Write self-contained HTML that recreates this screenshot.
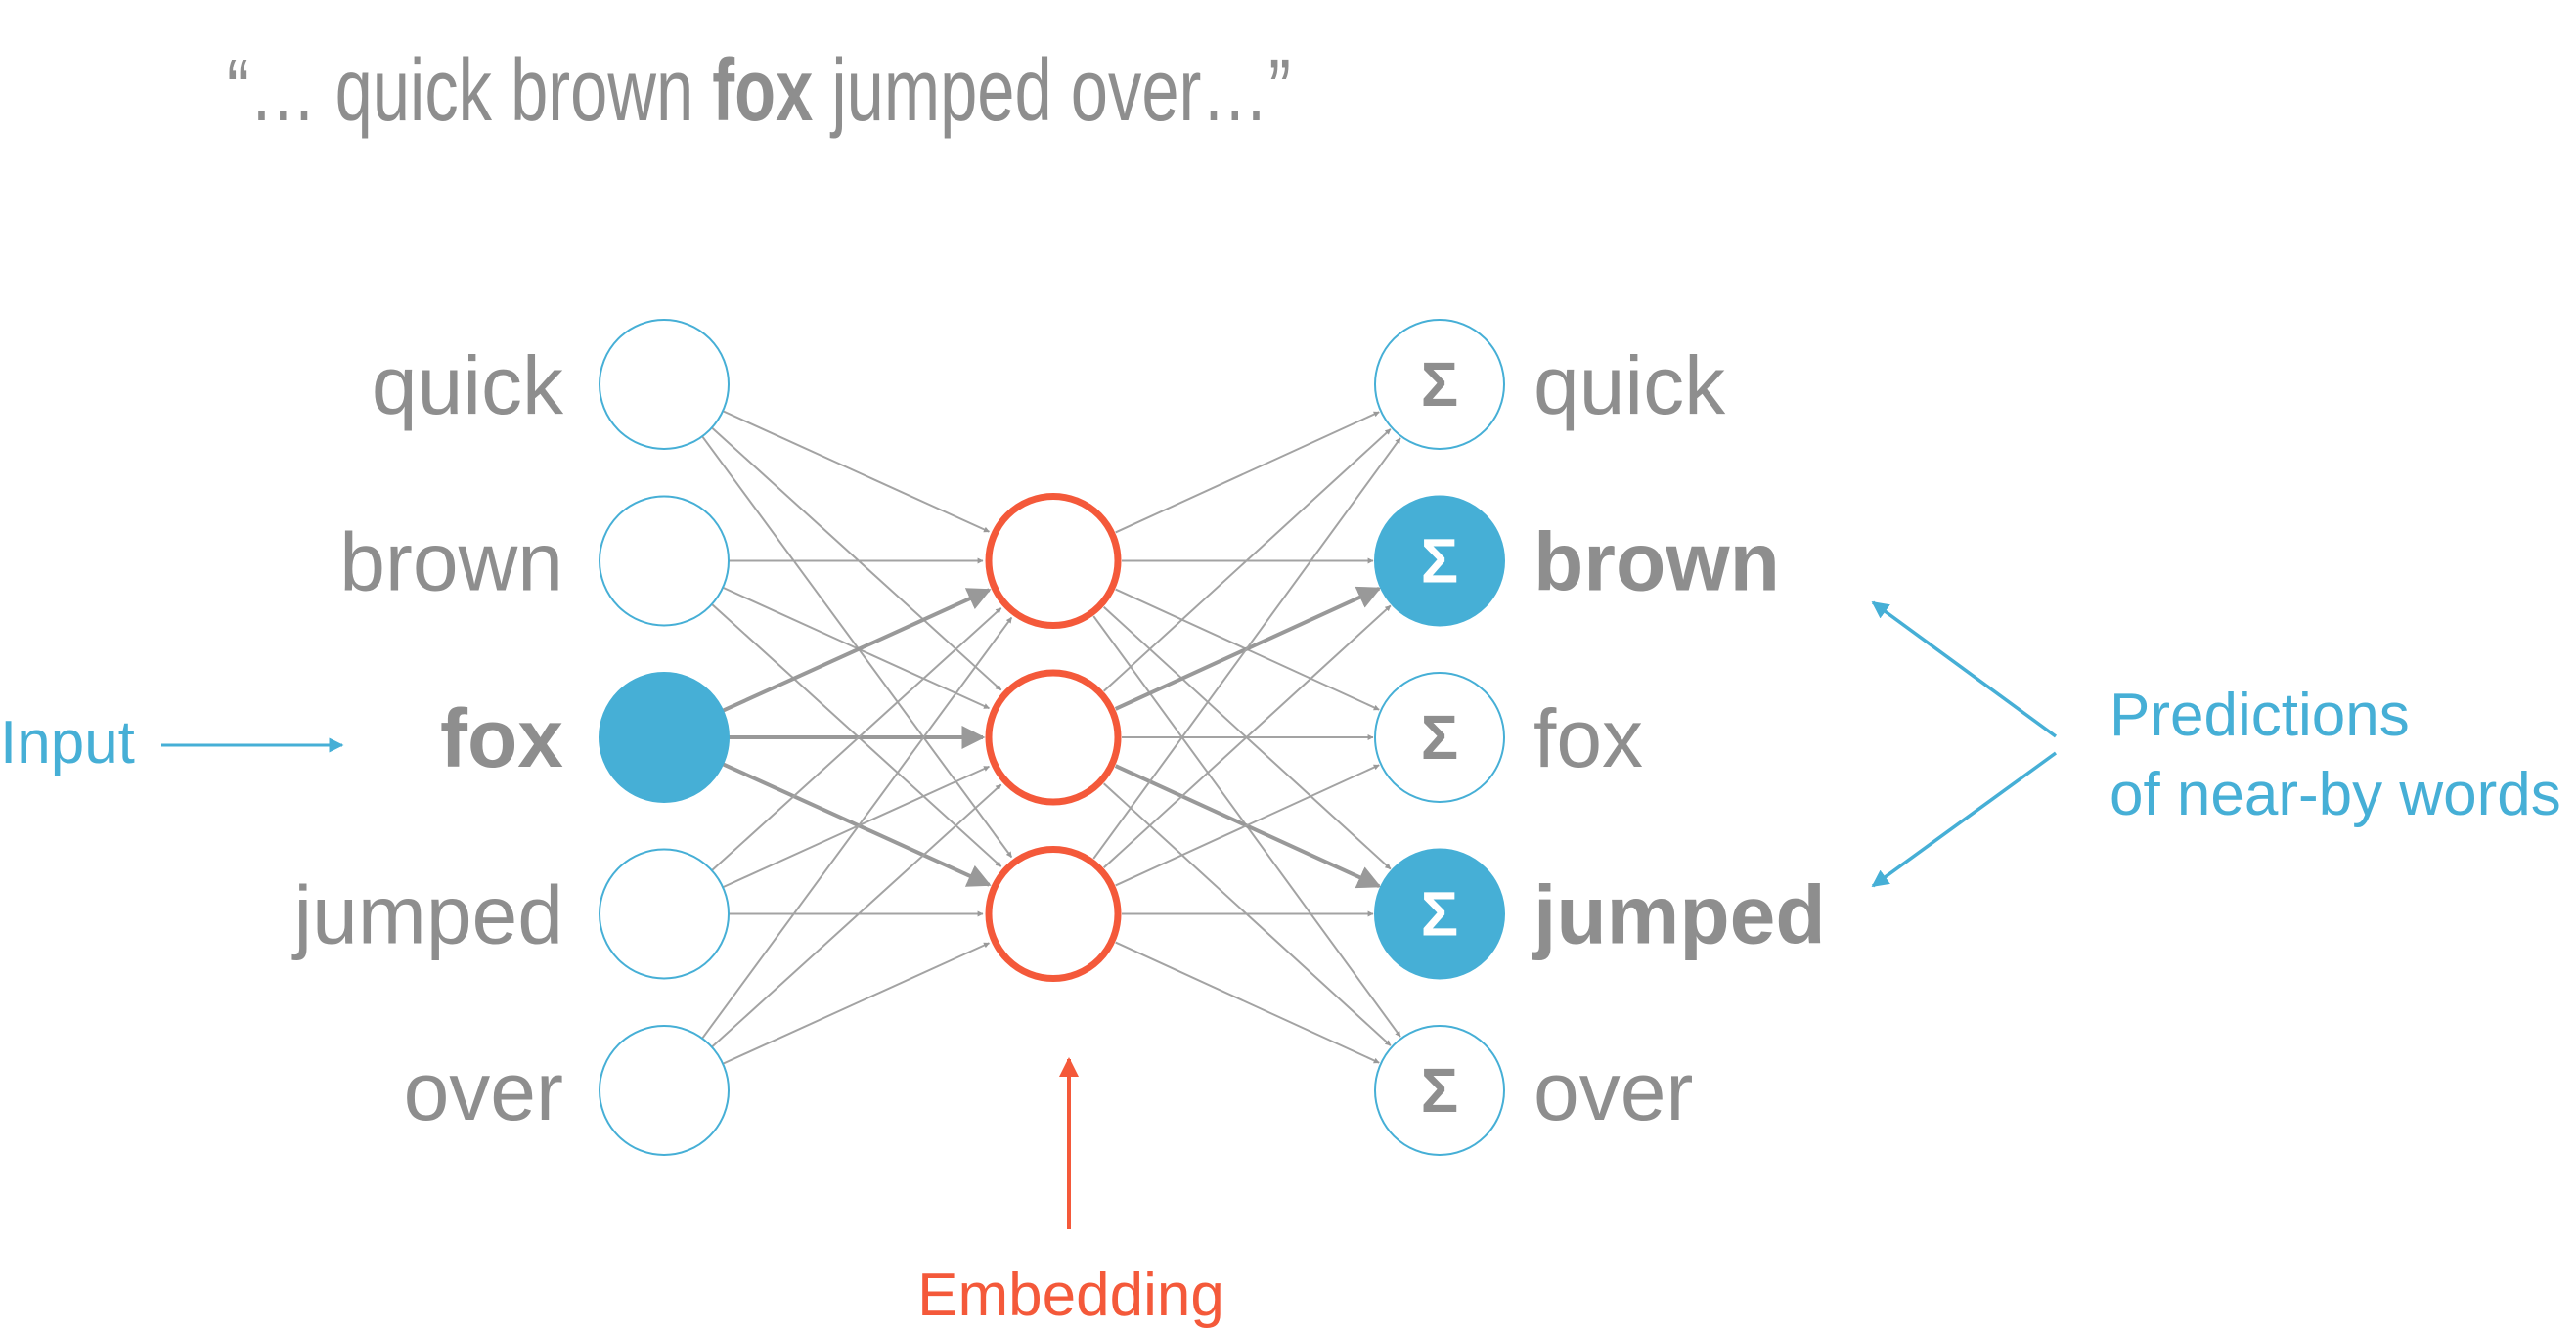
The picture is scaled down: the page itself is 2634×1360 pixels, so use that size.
<!DOCTYPE html>
<html><head><meta charset="utf-8"><style>
html,body{margin:0;padding:0;background:#fff;}
svg{display:block;font-family:"Liberation Sans",Arial,sans-serif;}
</style></head><body>
<svg id="c" width="2634" height="1360" viewBox="0 0 2634 1360">
<defs>
<marker id="ag" viewBox="0 0 10 10" refX="9" refY="5" markerWidth="6" markerHeight="6" orient="auto" markerUnits="userSpaceOnUse"><path d="M0,0 L10,5 L0,10z" fill="#999"/></marker>
<marker id="agb" viewBox="0 0 10 10" refX="9" refY="5" markerWidth="6" markerHeight="6" orient="auto"><path d="M0,0 L10,5 L0,10z" fill="#999"/></marker>
<marker id="ab" viewBox="0 0 10 10" refX="9" refY="5" markerWidth="5" markerHeight="5" orient="auto"><path d="M0,0 L10,5 L0,10z" fill="#46afd6"/></marker>
<marker id="ao" viewBox="0 0 10 10" refX="9" refY="5" markerWidth="5" markerHeight="5" orient="auto"><path d="M0,0 L10,5 L0,10z" fill="#f4593a"/></marker>
</defs>
<text x="232" y="123" font-size="90" fill="#8e8e8e" textLength="1088" lengthAdjust="spacingAndGlyphs">“… quick brown <tspan font-weight="bold">fox</tspan> jumped over…”</text>
<g id="edges"></g>
<g id="nodes"></g>
<text x="0" y="780" font-size="62" fill="#46afd6">Input</text>
<line x1="165" y1="762" x2="350" y2="762" stroke="#46afd6" stroke-width="3" marker-end="url(#ab)"/>
<line x1="1093" y1="1257" x2="1093" y2="1083" stroke="#f4593a" stroke-width="4" marker-end="url(#ao)"/>
<text x="1095" y="1345" font-size="62" fill="#f4593a" text-anchor="middle">Embedding</text>
<line x1="2102" y1="753" x2="1915" y2="616" stroke="#46afd6" stroke-width="3.5" marker-end="url(#ab)"/>
<line x1="2102" y1="770" x2="1915" y2="906" stroke="#46afd6" stroke-width="3.5" marker-end="url(#ab)"/>
<text x="2157" y="752" font-size="62" fill="#46afd6">Predictions</text>
<text x="2157" y="833" font-size="62" fill="#46afd6">of near-by words</text>
</svg>
<script>
const words = ["quick","brown","fox","jumped","over"];
const inputActive = [false,false,true,false,false];
const outputActive = [false,true,false,true,false];
const hiddenCount = 3;
const NS="http://www.w3.org/2000/svg";
const IX=679, HX=1077, OX=1472, R=66, HR=66;
const ys=i=>393+i*180.5;
const hy=j=>573.5+j*180.5;
const E=document.getElementById('edges'), N=document.getElementById('nodes');
function mk(t,a,p){const e=document.createElementNS(NS,t);for(const k in a)e.setAttribute(k,a[k]);p.appendChild(e);return e;}
function edge(x1,y1,x2,y2,r1,r2,bold,nm){
  const dx=x2-x1,dy=y2-y1,L=Math.hypot(dx,dy),ux=dx/L,uy=dy/L;
  const l=mk('line',{x1:x1+ux*r1,y1:y1+uy*r1,x2:x2-ux*(r2+2),y2:y2-uy*(r2+2),stroke:bold?'#999':'#a3a3a3','stroke-width':bold?4:2,'marker-end':bold?'url(#agb)':'url(#ag)'},E);
  
  
}
words.forEach((w,i)=>{for(let j=0;j<hiddenCount;j++)edge(IX,ys(i),HX,hy(j),R,HR+4,inputActive[i],'edge-in-'+w+'-h'+j);});
for(let j=0;j<hiddenCount;j++)words.forEach((w,i)=>edge(HX,hy(j),OX,ys(i),HR+4,R,j===1&&outputActive[i],'edge-h'+j+'-out-'+w));
words.forEach((w,i)=>{
  const c=mk('ellipse',{cx:IX,cy:ys(i),rx:R,ry:R,fill:inputActive[i]?'#46afd6':'#fff',stroke:'#46afd6','stroke-width':2},N);
  
  
  const t=mk('text',{x:576,y:ys(i)+30,'font-size':84,fill:'#8e8e8e','text-anchor':'end','font-weight':inputActive[i]?'bold':'normal'},N);
  t.textContent=w;
  
  
  const o=mk('ellipse',{cx:OX,cy:ys(i),rx:R,ry:R,fill:outputActive[i]?'#46afd6':'#fff',stroke:'#46afd6','stroke-width':2},N);
  
  
  const s=mk('text',{x:OX,y:ys(i)+22,'font-size':64,'font-weight':'bold',fill:outputActive[i]?'#fff':'#8e8e8e','text-anchor':'middle'},N);
  s.textContent='Σ';
  
  
  const ot=mk('text',{x:1568,y:ys(i)+30,'font-size':84,fill:'#8e8e8e','font-weight':outputActive[i]?'bold':'normal'},N);
  ot.textContent=w;
  
  
});
for(let j=0;j<hiddenCount;j++){
  const h=mk('ellipse',{cx:HX,cy:hy(j),rx:HR,ry:HR,fill:'#fff',stroke:'#f4593a','stroke-width':7},N);
  
  
}
</script>
</body></html>
